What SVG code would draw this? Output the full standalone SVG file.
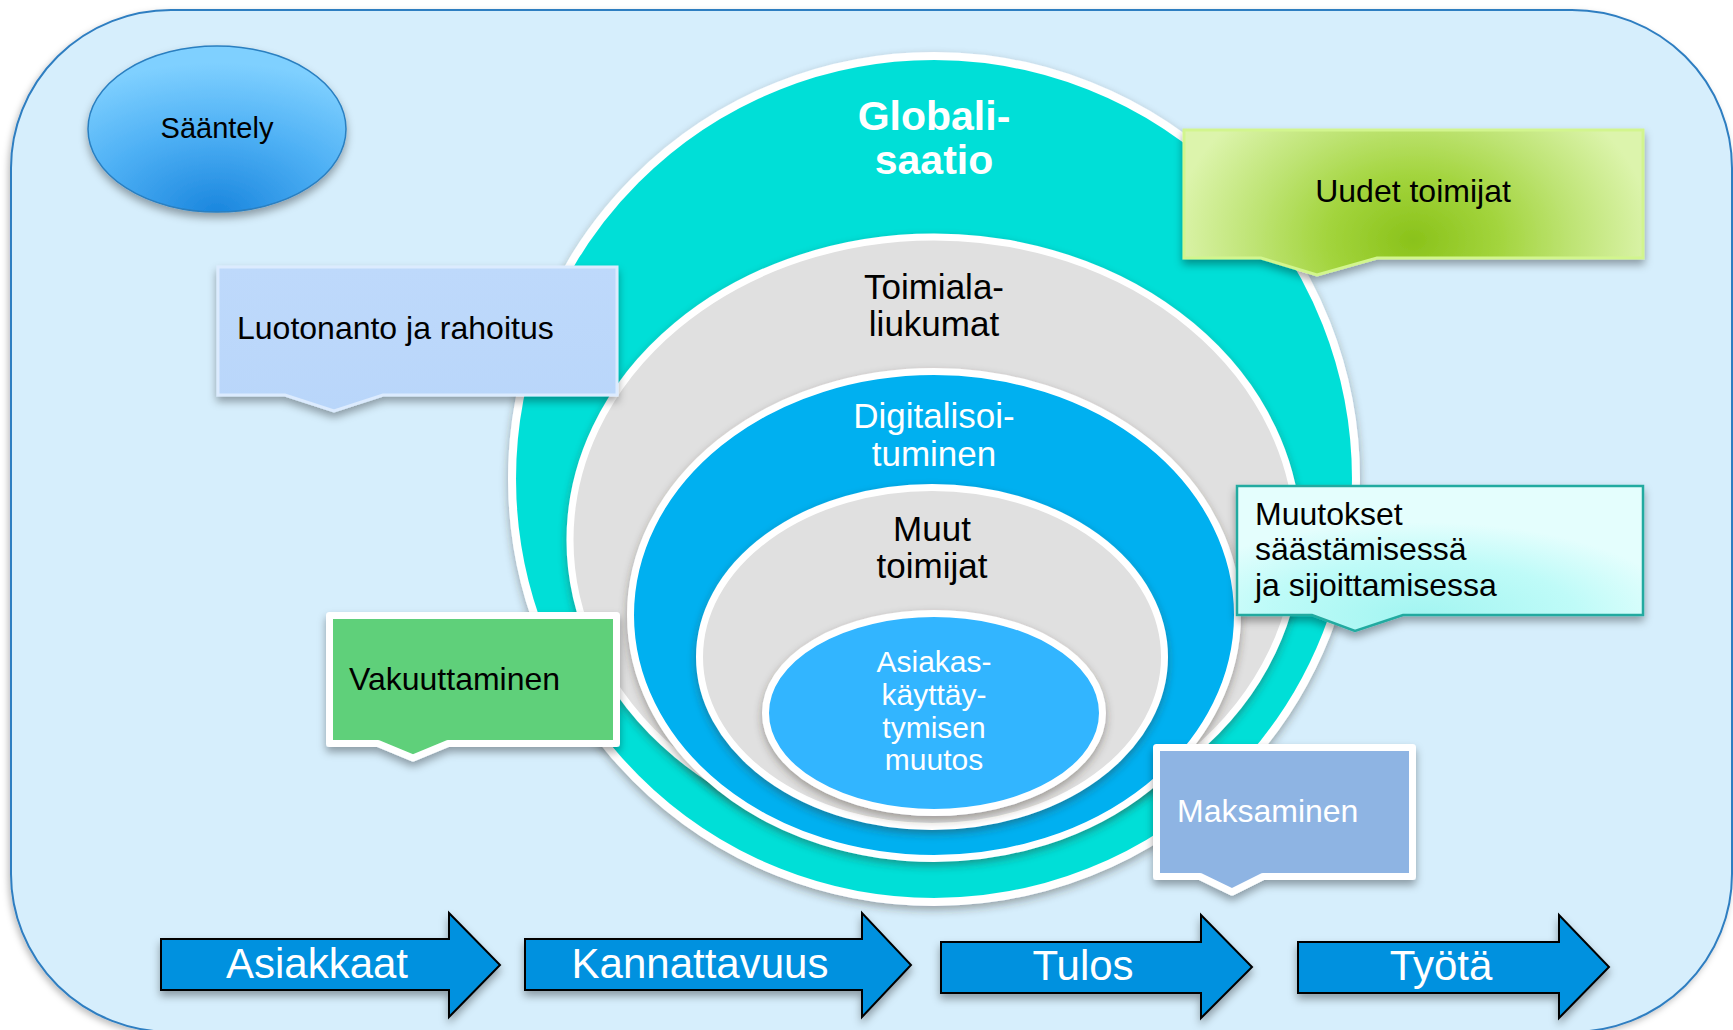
<svg xmlns="http://www.w3.org/2000/svg" width="1733" height="1030" viewBox="0 0 1733 1030">
<defs>
<style>
text{font-family:"Liberation Sans",Arial,sans-serif}
.ring{stroke:#fff}
.c32{font-size:32px}
.mid{text-anchor:middle}
.w{fill:#fff}
.k{fill:#000}
.arrow{fill:#0091DF;stroke:#000;stroke-width:2;stroke-linejoin:miter}
.at{font-size:42px;fill:#fff;text-anchor:middle}
.boxw{stroke:#fff;stroke-width:7;stroke-linejoin:round}
</style>
<filter id="bgsh" x="-5%" y="-5%" width="110%" height="110%"><feDropShadow dx="-2" dy="3" stdDeviation="3" flood-color="#000" flood-opacity="0.25"/></filter>
<filter id="esh" x="-10%" y="-10%" width="120%" height="125%"><feDropShadow dx="0" dy="4" stdDeviation="4" flood-color="#3a3020" flood-opacity="0.4"/></filter>
<filter id="bsh" x="-10%" y="-10%" width="120%" height="135%"><feDropShadow dx="0" dy="5" stdDeviation="4" flood-color="#000" flood-opacity="0.35"/></filter>
<radialGradient id="gSaan" cx="50%" cy="100%" r="90%" fx="50%" fy="100%">
<stop offset="0" stop-color="#1A86DE"/><stop offset="0.55" stop-color="#4FB1F5"/><stop offset="1" stop-color="#7FD0FF"/>
</radialGradient>
<radialGradient id="gUud" gradientUnits="userSpaceOnUse" cx="1413" cy="240" r="240" fx="1413" fy="240" gradientTransform="translate(1413 240) scale(1 0.75) translate(-1413 -240)">
<stop offset="0" stop-color="#8AC21A"/><stop offset="0.35" stop-color="#A2D43C"/><stop offset="0.65" stop-color="#BDE372"/><stop offset="1" stop-color="#DCF4AC"/>
</radialGradient>
<radialGradient id="gMuu" cx="45%" cy="90%" r="65%" fx="45%" fy="90%">
<stop offset="0" stop-color="#A2F5F1"/><stop offset="0.6" stop-color="#BFFBF8"/><stop offset="1" stop-color="#E4FEFD"/>
</radialGradient>
<linearGradient id="gLuo" x1="0" y1="0" x2="0" y2="1">
<stop offset="0" stop-color="#BED9FB"/><stop offset="1" stop-color="#B9D6FA"/>
</linearGradient>
</defs>

<rect id="background" x="11" y="10" width="1721" height="1022" rx="160" ry="158" fill="#D6EEFC" stroke="#2F7EC1" stroke-width="2" filter="url(#bgsh)"/>

<g id="rings">
<g id="globalisaatio">
<ellipse class="ring" cx="934" cy="479" rx="422" ry="423" fill="#06DFD7" stroke-width="8" filter="url(#esh)"/>
<text class="w mid" font-size="41" font-weight="bold" x="934" y="130">Globali-</text>
<text class="w mid" font-size="41" font-weight="bold" x="934" y="174">saatio</text>
</g>
<g id="toimialaliukumat">
<ellipse class="ring" cx="934" cy="540" rx="364" ry="303" fill="#E0E0E0" stroke-width="7" filter="url(#esh)"/>
<text class="k mid" font-size="35" x="934" y="299">Toimiala-</text>
<text class="k mid" font-size="35" x="934" y="336">liukumat</text>
</g>
<g id="digitalisoituminen">
<ellipse class="ring" cx="934" cy="615" rx="303.5" ry="243.5" fill="#00B0F0" stroke-width="7" filter="url(#esh)"/>
<text class="w mid" font-size="35" x="934" y="428">Digitalisoi-</text>
<text class="w mid" font-size="35" x="934" y="466">tuminen</text>
</g>
<g id="muuttoimijat">
<ellipse class="ring" cx="932" cy="657" rx="232.5" ry="169.5" fill="#E0E0E0" stroke-width="7" filter="url(#esh)"/>
<text class="k mid" font-size="35" x="932" y="541">Muut</text>
<text class="k mid" font-size="35" x="932" y="578">toimijat</text>
</g>
<g id="asiakaskayttaytyminen">
<ellipse class="ring" cx="934" cy="713" rx="168.5" ry="99.5" fill="#33B5FF" stroke-width="7" filter="url(#esh)"/>
<text class="w mid" font-size="30" x="934" y="672">Asiakas-</text>
<text class="w mid" font-size="30" x="934" y="705">käyttäy-</text>
<text class="w mid" font-size="30" x="934" y="738">tymisen</text>
<text class="w mid" font-size="30" x="934" y="770">muutos</text>
</g>
</g>

<g id="saantely">
<ellipse cx="217" cy="129" rx="129" ry="83" fill="url(#gSaan)" stroke="#2A7FC0" stroke-width="1.5" filter="url(#bsh)"/>
<text class="k mid" font-size="29" x="217" y="138">Sääntely</text>
</g>

<g id="luotonanto">
<path d="M218,267 H617 V395 H383 L334,411 L285,395 H218 Z" fill="url(#gLuo)" stroke="#DCEBFE" stroke-width="3" filter="url(#bsh)"/>
<text class="k c32" x="237" y="339">Luotonanto ja rahoitus</text>
</g>

<g id="uudettoimijat">
<path d="M1184,130 H1643 V258 H1377 L1317,275 L1261,258 H1184 Z" fill="url(#gUud)" stroke="#D2F58E" stroke-width="3" filter="url(#bsh)"/>
<text class="k c32 mid" x="1413" y="202">Uudet toimijat</text>
</g>

<g id="muutokset">
<path d="M1237,486 H1643 V615 H1403 L1355,631 L1312,615 H1237 Z" fill="url(#gMuu)" stroke="#22AAA0" stroke-width="2.5" filter="url(#bsh)"/>
<text class="k c32" x="1255" y="525">Muutokset</text>
<text class="k c32" x="1255" y="560">säästämisessä</text>
<text class="k c32" x="1255" y="596">ja sijoittamisessa</text>
</g>

<g id="vakuuttaminen">
<path class="boxw" d="M329.5,615.5 H616.5 V743.5 H448 L413,758 L378,743.5 H329.5 Z" fill="#5ED07A" filter="url(#bsh)"/>
<text class="k c32" x="349" y="690">Vakuuttaminen</text>
</g>

<g id="maksaminen">
<path class="boxw" d="M1156.5,747.5 H1412.5 V876.5 H1263 L1232,892 L1200,876.5 H1156.5 Z" fill="#8EB4E3" filter="url(#bsh)"/>
<text class="w c32" x="1177" y="822">Maksaminen</text>
</g>

<g id="connectors"></g>

<g id="asiakkaat">
<path class="arrow" d="M161,939 H449 V913 L500,965 L449,1017 V990 H161 Z" filter="url(#bsh)"/>
<text class="at" x="317" y="978">Asiakkaat</text>
</g>
<g id="kannattavuus">
<path class="arrow" d="M525,939 H862 V913 L911,965 L862,1017 V990 H525 Z" filter="url(#bsh)"/>
<text class="at" x="700" y="978">Kannattavuus</text>
</g>
<g id="tulos">
<path class="arrow" d="M941,942 H1201 V915 L1252,967 L1201,1018 V993 H941 Z" filter="url(#bsh)"/>
<text class="at" x="1083" y="980">Tulos</text>
</g>
<g id="tyota">
<path class="arrow" d="M1298,942 H1559 V915 L1609,967 L1559,1018 V993 H1298 Z" filter="url(#bsh)"/>
<text class="at" x="1441" y="980">Työtä</text>
</g>
</svg>
